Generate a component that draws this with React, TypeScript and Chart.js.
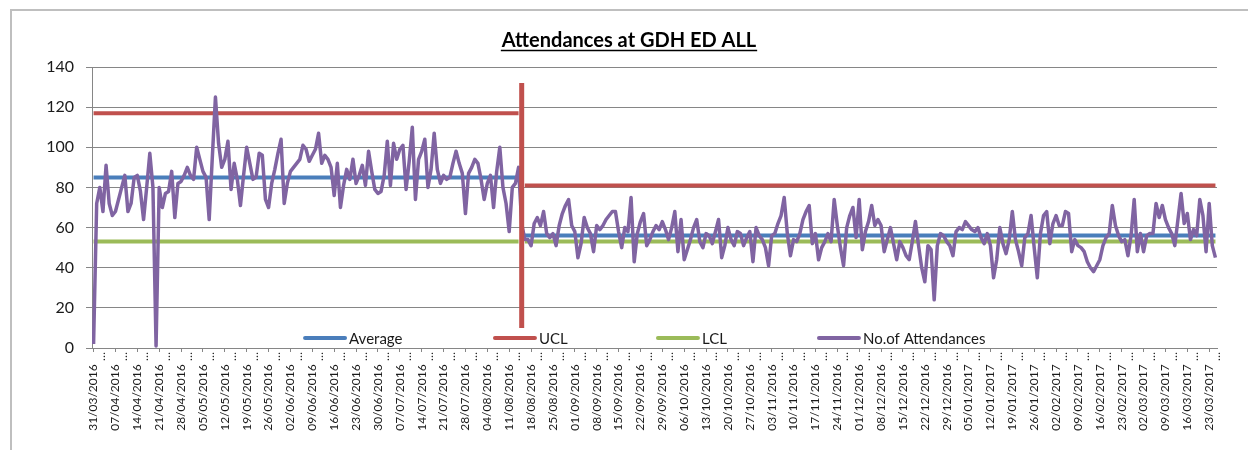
import React, { useEffect, useRef } from 'react';
import { Chart, registerables } from 'chart.js';

Chart.register(...registerables);

const FONT = 'Lato, "Liberation Sans", sans-serif';

const chartTitle = 'Attendances at GDH ED ALL';
const startDate = '2016-03-31';
const labelEveryDays = 7;

// Daily attendances, 31/03/2016 .. 25/03/2017
const attendances = [
  2, 72, 80, 68, 91, 72, 66, 68, 74, 80,
  86, 68, 72, 85, 86, 78, 64, 80, 97, 80,
  1, 80, 70, 77, 78, 88, 65, 82, 83, 86,
  90, 86, 84, 100, 94, 88, 85, 64, 95, 125,
  102, 90, 94, 103, 79, 92, 84, 71, 86, 100,
  92, 84, 85, 97, 96, 74, 70, 82, 89, 97,
  104,
  72, 82, 88, 90, 92, 94, 101, 99, 93, 96,
  99, 107, 92, 96, 94, 90, 76, 92, 70, 81,
  89, 84, 94, 82, 86, 91, 81, 98, 88, 79,
  77, 78, 86, 103, 81, 102, 94, 99, 101, 79,
  93, 110, 74, 94, 98, 104, 80, 89, 107, 89,
  82, 86, 84, 85, 92, 98, 92, 87, 67, 87,
  90, 94, 92, 84, 74, 82, 86, 70, 88, 100,
  80, 72, 58, 80, 82, 90,
  62, 54, 54, 51,
  62, 65, 61, 68, 57, 55, 57, 51, 61, 67,
  71, 74, 61, 58, 45, 52, 65, 60, 57, 48,
  61, 59, 61, 64, 66, 68, 68, 58, 50, 60,
  58, 75, 43, 57, 63, 67, 51, 54, 58, 61,
  59, 63, 59, 54, 60, 68, 48, 64, 44, 49,
  54, 60, 64, 53, 50, 57, 56, 52, 58, 64,
  45, 51, 60, 54, 51, 58, 57, 51, 55, 58,
  43, 60, 56, 54, 50, 41, 56, 57, 62, 66,
  75, 57, 46, 54, 53, 57, 64, 68, 71, 52,
  57, 44, 50, 53, 57, 53, 74, 61, 50, 41,
  60, 66, 70, 55,
  74, 49, 58, 63, 71, 61,
  64, 61, 48, 54, 60, 52, 44, 53, 50, 46,
  44, 53, 63, 51, 40, 33, 51, 49, 24, 51,
  57, 56, 53, 51, 46, 58, 60, 59, 63, 61,
  59, 58, 60, 55, 52, 57, 51, 35, 44, 60,
  52, 47, 54, 68, 54, 48, 41, 55, 57, 66,
  50, 35, 57, 66, 68, 52, 62, 66, 61, 61,
  68, 67, 48, 54, 51, 50, 48, 43, 40, 38,
  41, 44, 51, 55, 57, 71, 61, 56, 53, 54,
  46, 56, 74, 48, 57, 48, 56, 57, 57, 72,
  65, 71, 64, 60, 57, 51, 64, 77, 62, 67,
  54, 59, 56, 74, 66, 48, 72, 51, 45,
];

const phaseChangeDay = 137;
const averageLevels = [85, 56];
const uclLevels = [117, 81];
const lclLevels = [53, 53];
const phaseMarkerSpan = [10, 132];

const yMin = 0;
const yMax = 140;
const yStep = 20;

const seriesNames = ['Average', 'UCL', 'LCL', 'No.of Attendances'];
const seriesColors = ['#4a7ebb', '#c0504d', '#9bbb59', '#8064a2'];

function dayLabel(i: number): string {
  const d = new Date(startDate + 'T00:00:00Z');
  d.setUTCDate(d.getUTCDate() + i);
  const dd = String(d.getUTCDate()).padStart(2, '0');
  const mm = String(d.getUTCMonth() + 1).padStart(2, '0');
  return `${dd}/${mm}/${d.getUTCFullYear()}`;
}

function phaseSeries(levels: number[]) {
  return attendances.map((_, i) => ({
    x: i,
    y: i < phaseChangeDay ? levels[0] : i > phaseChangeDay ? levels[1] : null,
  }));
}

const labelDays: number[] = [];
for (let d = 0; d < attendances.length; d += labelEveryDays) labelDays.push(d);

const titlePlugin = {
  id: 'excelTitle',
  afterDraw(chart: any) {
    const { ctx } = chart;
    ctx.save();
    ctx.font = `bold 20px ${FONT}`;
    ctx.fillStyle = '#000';
    ctx.textAlign = 'center';
    ctx.textBaseline = 'alphabetic';
    const cx = 629;
    ctx.fillText(chartTitle, cx, 47);
    const w = ctx.measureText(chartTitle).width;
    ctx.strokeStyle = '#000';
    ctx.lineWidth = 1.5;
    ctx.beginPath();
    ctx.moveTo(cx - w / 2 - 1, 50.5);
    ctx.lineTo(cx + w / 2 + 1, 50.5);
    ctx.stroke();
    ctx.restore();
  },
};

const legendPlugin = {
  id: 'insideLegend',
  afterDraw(chart: any) {
    const { ctx, chartArea } = chart;
    const fracs = [0.1876, 0.3564, 0.5013, 0.6444];
    const y = chartArea.bottom - 10;
    const width = chartArea.right - chartArea.left;
    ctx.save();
    seriesNames.forEach((name, k) => {
      const x = chartArea.left + fracs[k] * width;
      ctx.strokeStyle = seriesColors[k];
      ctx.lineWidth = 4;
      ctx.lineCap = 'round';
      ctx.beginPath();
      ctx.moveTo(x + 2, y);
      ctx.lineTo(x + 42, y);
      ctx.stroke();
      ctx.fillStyle = '#1a1a1a';
      ctx.font = `15px ${FONT}`;
      ctx.textAlign = 'left';
      ctx.textBaseline = 'middle';
      ctx.fillText(name, x + 46, y + 1);
    });
    ctx.restore();
  },
};

export default function App() {
  const ref = useRef<HTMLCanvasElement>(null);

  useEffect(() => {
    const lineBase = { pointRadius: 0, pointHoverRadius: 0, tension: 0, fill: false, spanGaps: false };
    const chart = new Chart(ref.current as HTMLCanvasElement, {
      type: 'line',
      data: {
        datasets: [
          {
            label: 'phase change',
            data: phaseMarkerSpan.map((v) => ({ x: phaseChangeDay, y: v })),
            borderColor: seriesColors[1],
            borderWidth: 5,
            order: 0,
            ...lineBase,
          },
          {
            label: seriesNames[3],
            data: attendances.map((v, i) => ({ x: i, y: v })),
            borderColor: seriesColors[3],
            borderWidth: 3.5,
            borderJoinStyle: 'round',
            order: 1,
            ...lineBase,
          },
          {
            label: seriesNames[2],
            data: phaseSeries(lclLevels),
            borderColor: seriesColors[2],
            borderWidth: 4,
            order: 2,
            ...lineBase,
          },
          {
            label: seriesNames[1],
            data: phaseSeries(uclLevels),
            borderColor: seriesColors[1],
            borderWidth: 4,
            order: 3,
            ...lineBase,
          },
          {
            label: seriesNames[0],
            data: phaseSeries(averageLevels),
            borderColor: seriesColors[0],
            borderWidth: 4,
            order: 4,
            ...lineBase,
          },
        ] as any,
      },
      options: {
        animation: false,
        responsive: false,
        layout: { padding: { top: 67, left: 12, right: 31, bottom: 0 } },
        plugins: {
          legend: { display: false },
          title: { display: false },
          tooltip: { enabled: false },
        },
        scales: {
          x: {
            type: 'linear',
            min: -0.5,
            max: attendances.length - 0.5,
            afterBuildTicks: (scale: any) => {
              scale.ticks = labelDays.map((v) => ({ value: v }));
            },
            afterFit: (scale: any) => {
              scale.height = 102;
            },
            ticks: {
              autoSkip: false,
              maxRotation: 90,
              minRotation: 90,
              padding: 0,
              color: '#1a1a1a',
              font: { family: FONT, size: 12, lineHeight: 0.6 },
              callback: (value: any) => [dayLabel(Number(value)) + '    ', '\u2026'],
            },
            grid: {
              display: true,
              drawOnChartArea: false,
              drawTicks: true,
              tickLength: 4,
              color: '#868686',
            },
            border: { display: true, color: '#868686', width: 1 },
          },
          y: {
            min: yMin,
            max: yMax,
            afterFit: (scale: any) => {
              scale.width = 80;
            },
            ticks: {
              stepSize: yStep,
              padding: 12,
              color: '#1a1a1a',
              font: { family: FONT, size: 16 },
            },
            grid: {
              color: '#868686',
              lineWidth: 1,
              tickLength: 6,
            },
            border: { display: true, color: '#868686', width: 1 },
          },
        },
      },
      plugins: [titlePlugin, legendPlugin],
    } as any);
    return () => chart.destroy();
  }, []);

  return (
    <div style={{ position: 'absolute', left: 0, top: 0, width: 1248, height: 450, background: '#fff', overflow: 'hidden' }}>
      <div
        style={{
          position: 'absolute',
          left: 10,
          top: 9,
          width: 1300,
          height: 500,
          border: '2px solid #bfbfbf',
          boxSizing: 'border-box',
        }}
      />
      <canvas ref={ref} width={1248} height={450} style={{ position: 'absolute', left: 0, top: 0 }} />
    </div>
  );
}
